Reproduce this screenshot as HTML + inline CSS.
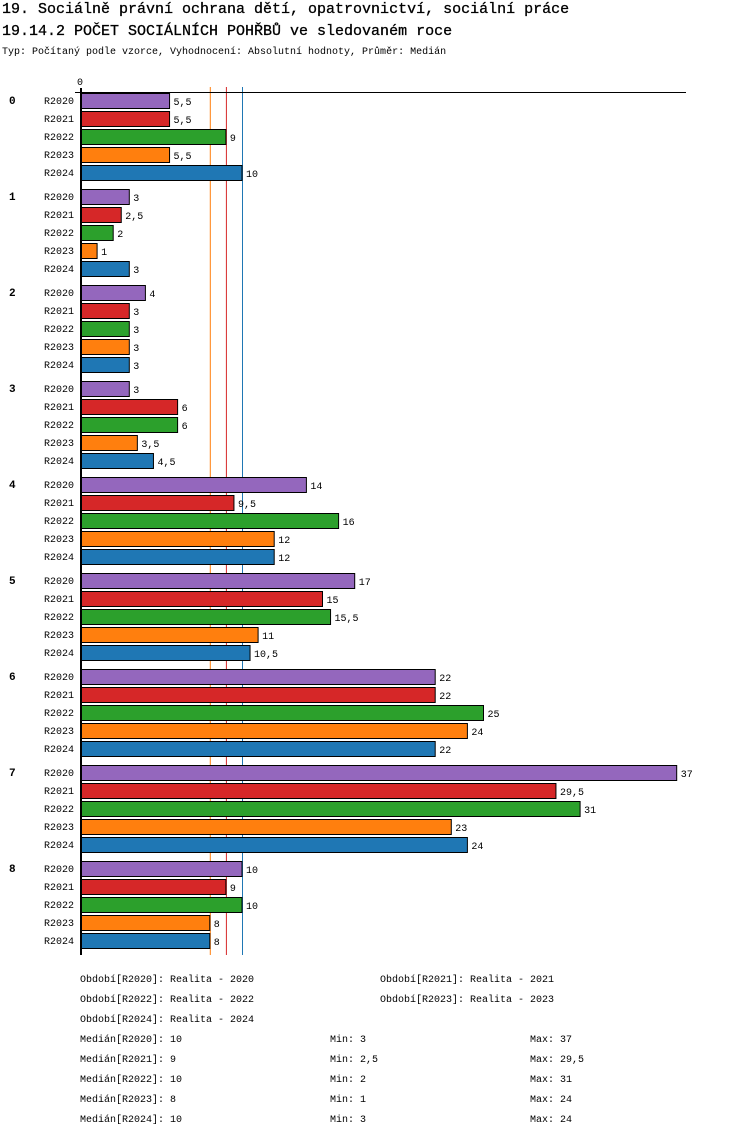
<!DOCTYPE html>
<html><head><meta charset="utf-8"><style>
body{margin:0;background:#fff;width:750px;height:1136px;overflow:hidden;font-family:"Liberation Mono",monospace;}
svg text{font-family:"Liberation Mono",monospace;}
</style></head><body>
<svg id="c" width="750" height="1136" xmlns="http://www.w3.org/2000/svg">
<text x="2" y="13" font-size="15" stroke="#000" stroke-width="0.3">19. Sociálně právní ochrana dětí, opatrovnictví, sociální práce</text>
<text x="2" y="35" font-size="15" stroke="#000" stroke-width="0.3">19.14.2 POČET SOCIÁLNÍCH POHŘBŮ ve sledovaném roce</text>
<text x="2" y="54" font-size="10">Typ: Počítaný podle vzorce, Vyhodnocení: Absolutní hodnoty, Průměr: Medián</text>
<g id="marks"></g>
</svg>
<script>
const categories=["0","1","2","3","4","5","6","7","8"];
const seriesNames=["R2020","R2021","R2022","R2023","R2024"];
const colors=["#9467bd","#d62728","#2ca02c","#ff7f0e","#1f77b4"];
const s2020=[5.5,3,4,3,14,17,22,37,10];
const s2021=[5.5,2.5,3,6,9.5,15,22,29.5,9];
const s2022=[9,2,3,6,16,15.5,25,31,10];
const s2023=[5.5,1,3,3.5,12,11,24,23,8];
const s2024=[10,3,3,4.5,12,10.5,22,24,8];
const medians=[10,9,10,8,10];
const mins=["3","2,5","2","1","3"];
const maxs=["37","29,5","31","24","24"];
const periods=["Realita - 2020","Realita - 2021","Realita - 2022","Realita - 2023","Realita - 2024"];
const series=[s2020,s2021,s2022,s2023,s2024];
const NS="http://www.w3.org/2000/svg";
const g=document.getElementById('marks');
const x0=81,scale=16.1;
function xs(v){return x0+v*scale;}
function ys(ci,si){return 93+ci*96+si*18;}
function mk(t,a,txt){const e=document.createElementNS(NS,t);for(const k in a)e.setAttribute(k,a[k]);if(txt!==undefined)e.textContent=txt;g.appendChild(e);return e;}
function fmt(v){return String(v).replace('.',',');}
let e;
const lineOrder=[3,1,0,2,4];
lineOrder.forEach(i=>{
  e=mk('line',{x1:xs(medians[i])+0.5,x2:xs(medians[i])+0.5,y1:87,y2:955,stroke:colors[i],'stroke-width':1});
  
  
});
e=mk('text',{x:xs(0)-4,y:85,'font-size':10},'0');


categories.forEach((c,ci)=>{
  e=mk('text',{x:9,y:ys(ci,0)+11,'font-size':11,'font-weight':'bold'},c);
  
  
  series.forEach((s,si)=>{
    const y=ys(ci,si);
    e=mk('text',{x:44,y:y+11,'font-size':10},seriesNames[si]);
    
    
    e=mk('rect',{x:x0,y:y+0.5,width:xs(s[ci])-x0,height:15,fill:colors[si],stroke:'#000','stroke-width':1});
    
    
    e=mk('text',{x:xs(s[ci])+4,y:y+12,'font-size':10},fmt(s[ci]));
    
    
  });
});
e=mk('line',{x1:75,x2:686,y1:92.5,y2:92.5,stroke:'#000','stroke-width':1});


e=mk('line',{x1:81,x2:81,y1:88,y2:955,stroke:'#000','stroke-width':2});


periods.forEach((p,i)=>{
  const col=i%2,row=Math.floor(i/2);
  e=mk('text',{x:col?380:80,y:982+row*20,'font-size':10},'Období['+seriesNames[i]+']: '+p);
  
  
});
seriesNames.forEach((n,i)=>{
  const y=1042+i*20;
  e=mk('text',{x:80,y:y,'font-size':10},'Medián['+n+']: '+medians[i]);
  
  
  e=mk('text',{x:330,y:y,'font-size':10},'Min: '+mins[i]);
  
  
  e=mk('text',{x:530,y:y,'font-size':10},'Max: '+maxs[i]);
  
  
});
</script>
</body></html>
